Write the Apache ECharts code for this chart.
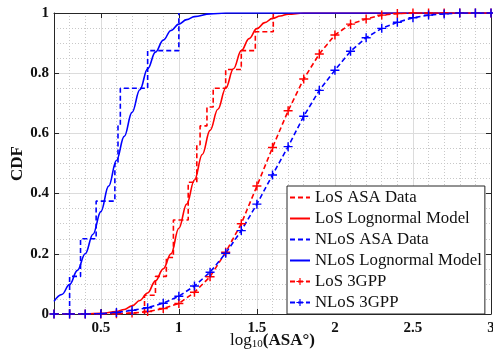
<!DOCTYPE html>
<html>
<head>
<meta charset="utf-8">
<script src="https://cdn.jsdelivr.net/npm/echarts@6/dist/echarts.min.js"></script>
<style>
  html, body { margin: 0; padding: 0; background: #fff; }
  #chart { width: 493px; height: 356px; }
</style>
</head>
<body>
<div id="chart"></div>
<script>
  // --- data ---
  var seriesNames = ['LoS ASA Data', 'LoS Lognormal Model', 'NLoS ASA Data', 'NLoS Lognormal Model', 'LoS 3GPP', 'NLoS 3GPP'];

  // empirical CDF steps (x where the CDF jumps, level after the jump)
  var losStepX = [0.78, 0.85, 0.92, 0.965, 1.06, 1.115, 1.136, 1.18, 1.22, 1.30, 1.40, 1.49, 1.605];
  var losStepY = [0.0625, 0.125, 0.1875, 0.3125, 0.4375, 0.5625, 0.625, 0.6875, 0.75, 0.8125, 0.875, 0.9375, 1.0];
  var nlosStepX = [0.30, 0.37, 0.47, 0.59, 0.61, 0.625, 0.80, 1.00];
  var nlosStepY = [0.125, 0.25, 0.375, 0.5, 0.625, 0.75, 0.875, 1.0];

  // fitted lognormal curves
  var losFitX = [0.4, 0.5, 0.6, 0.65, 0.7, 0.75, 0.8, 0.85, 0.9, 0.95, 1.0, 1.05, 1.1, 1.15, 1.2, 1.25, 1.3, 1.35, 1.4, 1.45, 1.5, 1.55, 1.6, 1.65, 1.7, 1.8, 2.0, 3.0];
  var losFitY = [0, 0.002, 0.008, 0.015, 0.027, 0.045, 0.07, 0.11, 0.15, 0.2, 0.285, 0.365, 0.445, 0.53, 0.61, 0.68, 0.75, 0.815, 0.875, 0.915, 0.948, 0.968, 0.982, 0.99, 0.996, 1.0, 1.0, 1.0];
  var nlosFitX = [0.2, 0.25, 0.3, 0.35, 0.4, 0.45, 0.5, 0.55, 0.6, 0.65, 0.7, 0.75, 0.8, 0.85, 0.9, 0.95, 1.0, 1.05, 1.1, 1.2, 1.3, 1.5, 3.0];
  var nlosFitY = [0.042, 0.065, 0.098, 0.145, 0.2, 0.265, 0.34, 0.425, 0.51, 0.59, 0.67, 0.745, 0.815, 0.87, 0.91, 0.942, 0.963, 0.978, 0.988, 0.997, 1.0, 1.0, 1.0];

  // 3GPP model, sampled every 0.1
  var gppX = [0.2, 0.3, 0.4, 0.5, 0.6, 0.7, 0.8, 0.9, 1.0, 1.1, 1.2, 1.3, 1.4, 1.5, 1.6, 1.7, 1.8, 1.9, 2.0, 2.1, 2.2, 2.3, 2.4, 2.5, 2.6, 2.7, 2.8, 2.9, 3.0];
  var losGppY = [0, 0, 0, 0, 0.001, 0.003, 0.008, 0.018, 0.035, 0.072, 0.124, 0.205, 0.30, 0.425, 0.553, 0.675, 0.781, 0.864, 0.927, 0.963, 0.98, 0.993, 0.998, 1, 1, 1, 1, 1, 1];
  var nlosGppY = [0, 0, 0, 0.001, 0.005, 0.012, 0.021, 0.036, 0.059, 0.093, 0.139, 0.202, 0.277, 0.365, 0.462, 0.556, 0.657, 0.743, 0.81, 0.873, 0.918, 0.949, 0.969, 0.984, 0.993, 0.997, 1, 1, 1];

  var xTicks = [0.5, 1, 1.5, 2, 2.5, 3];

  function pairs(xs, ys) {
    return xs.map(function (x, i) { return [x, ys[i]]; });
  }
  function stairs(xs, ys) {
    return [[xs[0], 0]].concat(pairs(xs, ys));
  }

  var RED = '#ff0000', BLUE = '#0000ff';
  var FONT = 'Liberation Serif';
  var plus = 'path://M4.2,0H5.8V4.2H10V5.8H5.8V10H4.2V5.8H0V4.2H4.2Z';
  var dash = [5, 3];

  // legend entries: lines without markers get an invisible symbol
  var legendData = seriesNames.map(function (n, i) {
    return i < 4 ? { name: n, itemStyle: { opacity: 0 } } : { name: n };
  });

  var myChart = echarts.init(document.getElementById('chart'));

  myChart.setOption({
    animation: false,
    backgroundColor: '#fff',
    grid: { left: 54, top: 13, right: 2, bottom: 42, containLabel: false, outerBoundsMode: 'none' },
    legend: {
      orient: 'vertical',
      left: 287,
      top: 186,
      padding: [3, 3, 3, 2],
      itemWidth: 20,
      itemHeight: 9,
      itemGap: 4,
      backgroundColor: '#fff',
      borderColor: '#262626',
      borderWidth: 1,
      borderRadius: 0,
      textStyle: { fontFamily: FONT, fontSize: 16.8, color: '#111', lineHeight: 16 },
      data: legendData
    },
    xAxis: [
      { // minor grid
        type: 'value', min: 0.2, max: 3, interval: 0.1, position: 'bottom',
        axisLine: { show: false }, axisTick: { show: false }, axisLabel: { show: false },
        splitLine: { show: true, lineStyle: { color: '#c8c8c8', type: [1, 2], width: 1 } }
      },
      { // main axis
        type: 'value', min: 0.2, max: 3, position: 'bottom',
        axisLine: { show: true, onZero: false, lineStyle: { color: '#262626', width: 1 } },
        axisTick: { show: true, inside: true, length: 5, customValues: xTicks, lineStyle: { color: '#262626' } },
        axisLabel: { show: true, customValues: xTicks, margin: 7,
          fontFamily: FONT, fontWeight: 'bold', fontSize: 15, color: '#111' },
        splitLine: { show: true, lineStyle: { color: '#dcdcdc', width: 1 } },
        name: 'log{sub|10}{b|(ASA°)}',
        nameLocation: 'middle',
        nameGap: 17,
        nameMoveOverlap: false,
        nameTextStyle: { fontFamily: FONT, fontSize: 17, color: '#111',
          rich: {
            sub: { fontFamily: FONT, fontSize: 11, verticalAlign: 'bottom', padding: [8, 0, 0, 0], color: '#111' },
            b: { fontFamily: FONT, fontSize: 17, fontWeight: 'bold', color: '#111' }
          } }
      },
      { // top box edge
        type: 'value', min: 0.2, max: 3, position: 'top',
        axisLine: { show: true, onZero: false, lineStyle: { color: '#262626', width: 1 } },
        axisTick: { show: true, inside: true, length: 5, customValues: xTicks, lineStyle: { color: '#262626' } },
        axisLabel: { show: false }, splitLine: { show: false }
      }
    ],
    yAxis: [
      { // minor grid
        type: 'value', min: 0, max: 1, interval: 0.05, position: 'left',
        axisLine: { show: false }, axisTick: { show: false }, axisLabel: { show: false },
        splitLine: { show: true, lineStyle: { color: '#c8c8c8', type: [1, 2], width: 1 } }
      },
      { // main axis
        type: 'value', min: 0, max: 1, interval: 0.2, position: 'left',
        axisLine: { show: true, onZero: false, lineStyle: { color: '#262626', width: 1 } },
        axisTick: { show: true, inside: true, length: 5, lineStyle: { color: '#262626' } },
        axisLabel: { show: true, margin: 5, fontFamily: FONT, fontWeight: 'bold', fontSize: 15, color: '#111' },
        splitLine: { show: true, lineStyle: { color: '#dcdcdc', width: 1 } },
        name: 'CDF',
        nameLocation: 'middle',
        nameGap: 28,
        nameMoveOverlap: false,
        nameTextStyle: { fontFamily: FONT, fontWeight: 'bold', fontSize: 17, color: '#111' }
      },
      { // right box edge
        type: 'value', min: 0, max: 1, interval: 0.2, position: 'right',
        axisLine: { show: true, onZero: false, lineStyle: { color: '#262626', width: 1 } },
        axisTick: { show: true, inside: true, length: 5, lineStyle: { color: '#262626' } },
        axisLabel: { show: false }, splitLine: { show: false }
      }
    ],
    series: [
      {
        name: seriesNames[0], type: 'line', step: 'end', symbol: 'none',
        data: stairs(losStepX, losStepY),
        itemStyle: { color: RED },
        lineStyle: { color: RED, width: 1.6, type: dash }
      },
      {
        name: seriesNames[1], type: 'line', symbol: 'none', smooth: 0.4, smoothMonotone: 'x',
        data: pairs(losFitX, losFitY),
        itemStyle: { color: RED },
        lineStyle: { color: RED, width: 1.6 }
      },
      {
        name: seriesNames[2], type: 'line', step: 'end', symbol: 'none',
        data: stairs(nlosStepX, nlosStepY),
        itemStyle: { color: BLUE },
        lineStyle: { color: BLUE, width: 1.6, type: dash }
      },
      {
        name: seriesNames[3], type: 'line', symbol: 'none', smooth: 0.4, smoothMonotone: 'x',
        data: pairs(nlosFitX, nlosFitY),
        itemStyle: { color: BLUE },
        lineStyle: { color: BLUE, width: 1.6 }
      },
      {
        name: seriesNames[4], type: 'line', symbol: plus, symbolSize: 9,
        data: pairs(gppX, losGppY),
        itemStyle: { color: RED },
        lineStyle: { color: RED, width: 1.6, type: dash }
      },
      {
        name: seriesNames[5], type: 'line', symbol: plus, symbolSize: 9,
        data: pairs(gppX, nlosGppY),
        itemStyle: { color: BLUE },
        lineStyle: { color: BLUE, width: 1.6, type: dash }
      }
    ]
  });
</script>
</body>
</html>
